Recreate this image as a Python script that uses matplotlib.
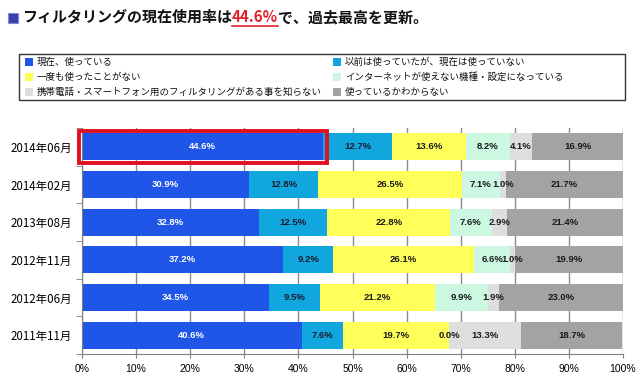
import matplotlib
matplotlib.use("Agg")
import matplotlib.pyplot as plt
from matplotlib.patches import Rectangle
import numpy as np

plt.rcParams['font.family'] = ['Noto Sans CJK JP', 'DejaVu Sans']

periods = ["2014年06月", "2014年02月", "2013年08月", "2012年11月", "2012年06月", "2011年11月"]
series_names = ["現在、使っている",
                "以前は使っていたが、現在は使っていない",
                "一度も使ったことがない",
                "インターネットが使えない機種・設定になっている",
                "携帯電話・スマートフォン用のフィルタリングがある事を知らない",
                "使っているかわからない"]
current_use = [44.6, 30.9, 32.8, 37.2, 34.5, 40.6]
used_before = [12.7, 12.8, 12.5, 9.2, 9.5, 7.6]
never_used = [13.6, 26.5, 22.8, 26.1, 21.2, 19.7]
no_internet = [8.2, 7.1, 7.6, 6.6, 9.9, 0.0]
not_aware = [4.1, 1.0, 2.9, 1.0, 1.9, 13.3]
unknown = [16.9, 21.7, 21.4, 19.9, 23.0, 18.7]
x_ticks = [0, 10, 20, 30, 40, 50, 60, 70, 80, 90, 100]
x_tick_labels = [f"{v}%" for v in x_ticks]

series = [current_use, used_before, never_used, no_internet, not_aware, unknown]
colors = ["#1F56E8", "#12A6DE", "#FFFF5A", "#CCF8E2", "#DEDEDE", "#A3A3A3"]
text_colors = ["white", "#1a1a2e", "#1a1a1a", "#1a1a1a", "#1a1a1a", "#1a1a1a"]
num_font = ['Liberation Sans', 'DejaVu Sans']

fig = plt.figure(figsize=(6.4, 3.82), dpi=100)
ax = fig.add_axes([82/640, 1-354/382, (623-82)/640, (354-128)/382])

y = np.arange(len(periods))
left = np.zeros(len(periods))
for vals, col, tcol in zip(series, colors, text_colors):
    vals = np.array(vals)
    ax.barh(y, vals, left=left, height=0.71, color=col, zorder=2)
    for yi, (l, v) in enumerate(zip(left, vals)):
        ax.text(l + v/2, yi, f"{v:.1f}%", ha='center', va='center', color=tcol,
                fontsize=6.8, fontweight='bold', family=num_font, zorder=4)
    left += vals

# highlight box around the first bar's current-use segment
ax.add_patch(Rectangle((-0.6, 0 - 0.42), current_use[0] + 1.2, 0.84,
                       fill=False, edgecolor="#E01020", lw=2.8, zorder=5,
                       clip_on=False))

ax.set_xlim(0, 100)
ax.set_ylim(len(periods) - 0.5, -0.5)
ax.set_xticks(x_ticks)
ax.set_xticklabels(x_tick_labels, fontsize=7.5, family=num_font)
ax.set_yticks(y)
ax.set_yticklabels(periods, fontsize=8.3)
ax.tick_params(axis='y', length=0, pad=7)
ax.tick_params(axis='x', length=3, color='#808080', pad=4)
ax.set_yticks(np.arange(-0.5, len(periods)), minor=True)
ax.tick_params(axis='y', which='minor', length=4, color='#808080')
ax.grid(axis='x', color='#8c8c8c', lw=1.0, zorder=0)
ax.set_axisbelow(True)
for s in ['top', 'right']:
    ax.spines[s].set_visible(False)
for s in ['left', 'bottom']:
    ax.spines[s].set_color('#808080')

# legend drawn manually
fig.patches.append(Rectangle((19/640, 1-100/382), (625-19)/640, 46/382,
                             transform=fig.transFigure, fill=False,
                             edgecolor='#333333', lw=1.0))
rows_y = [62, 77, 92]
cols_x = [25, 333]
order = [(0, 0, 0), (1, 1, 0), (2, 0, 1), (3, 1, 1), (4, 0, 2), (5, 1, 2)]
for idx, c, r in order:
    xm = cols_x[c]
    ym = rows_y[r]
    fig.patches.append(Rectangle((xm/640, 1-(ym+4)/382), 8/640, 8/382,
                                 transform=fig.transFigure, facecolor=colors[idx],
                                 edgecolor='none'))
    fig.text((xm+12)/640, 1-ym/382, series_names[idx], fontsize=6.8,
             va='center', ha='left', color='#111111')

# title with colored segment
fig.patches.append(Rectangle((8/640, 1-23/382), 10/640, 10/382,
                             transform=fig.transFigure, facecolor='#3a3fb0',
                             edgecolor='#8888cc', lw=0.8))
renderer = fig.canvas.get_renderer()
parts = [("フィルタリングの現在使用率は", "#111111", False),
         ("44.6%", "#E0202A", True),
         ("で、過去最高を更新。", "#111111", False)]
xpos = 22/640
for txt, col, ul in parts:
    t = fig.text(xpos, 1-17/382, txt, fontsize=10.8, fontweight='bold',
                 color=col, va='center', ha='left')
    bb = t.get_window_extent(renderer=renderer)
    if ul:
        fig.add_artist(plt.Line2D([bb.x0/640, bb.x1/640], [1-26/382, 1-26/382],
                                  transform=fig.transFigure, color=col, lw=1.2))
    xpos = bb.x1/640

fig.savefig("out.png", dpi=100, facecolor='white')
